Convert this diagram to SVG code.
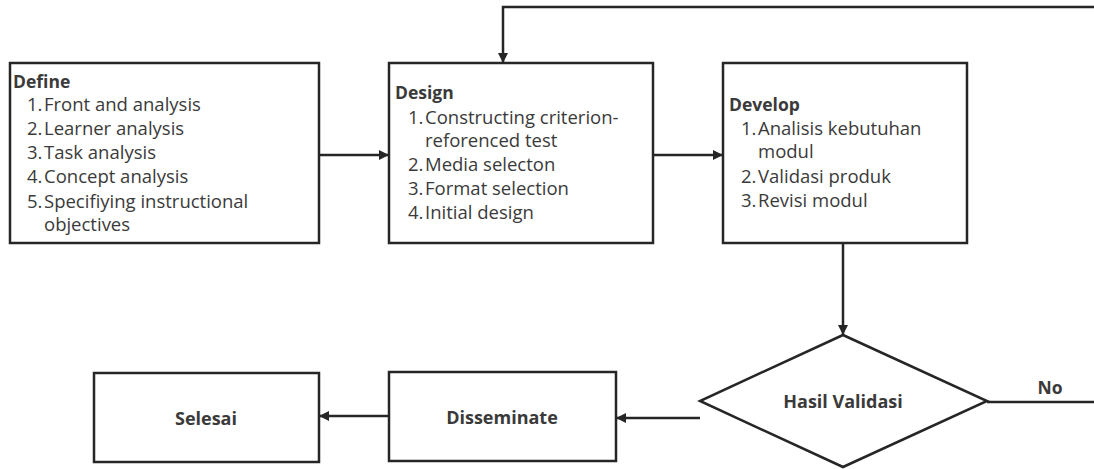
<svg xmlns="http://www.w3.org/2000/svg" width="1094" height="469" viewBox="0 0 1094 469">
<defs>
<style>
.box{fill:#fff;stroke:#262626;stroke-width:2.5}
.ln{fill:none;stroke:#262626;stroke-width:2.5}
text{font-family:"Open Sans","Noto Sans",sans-serif;fill:#3a3a3a;font-size:18.5px}
.t{font-weight:bold;font-size:17.5px}
.c{text-anchor:middle;dominant-baseline:central;font-weight:bold;font-size:18px}
</style>
<marker id="ah" viewBox="0 0 10 10" refX="10" refY="5" markerWidth="4" markerHeight="4" orient="auto" markerUnits="strokeWidth">
<path d="M0,0 L10,5 L0,10 z" fill="#262626"/>
</marker>
</defs>
<rect width="1094" height="469" fill="#fff"/>
<g id="connectors">
<line class="ln" x1="319" y1="155" x2="389" y2="155" marker-end="url(#ah)"/>
<line class="ln" x1="653" y1="155" x2="723" y2="155" marker-end="url(#ah)"/>
<line class="ln" x1="843" y1="243" x2="843" y2="335" marker-end="url(#ah)"/>
<line class="ln" x1="700" y1="418" x2="616" y2="418" marker-end="url(#ah)"/>
<line class="ln" x1="389" y1="416" x2="319" y2="416" marker-end="url(#ah)"/>
<polyline class="ln" points="987,402 1100,402 1100,7 503,7 503,63" marker-end="url(#ah)"/>
<text x="1050" y="394" class="t" text-anchor="middle">No</text>
</g>
<g id="define">
<rect class="box" x="10" y="63" width="309" height="180"/>
<text x="13" y="88" class="t">Define</text>
<text x="27" y="111">1.</text><text x="44" y="111">Front and analysis</text>
<text x="27" y="135">2.</text><text x="44" y="135">Learner analysis</text>
<text x="27" y="159">3.</text><text x="44" y="159">Task analysis</text>
<text x="27" y="183">4.</text><text x="44" y="183">Concept analysis</text>
<text x="27" y="208">5.</text><text x="44" y="208">Specifiying instructional</text>
<text x="44" y="231">objectives</text>
</g>
<g id="design">
<rect class="box" x="389" y="63" width="264" height="180"/>
<text x="395" y="99" class="t">Design</text>
<text x="408" y="124">1.</text><text x="425" y="124">Constructing criterion-</text>
<text x="425" y="147">reforenced test</text>
<text x="408" y="171">2.</text><text x="425" y="171">Media selecton</text>
<text x="408" y="195">3.</text><text x="425" y="195">Format selection</text>
<text x="408" y="219">4.</text><text x="425" y="219">Initial design</text>
</g>
<g id="develop">
<rect class="box" x="723" y="63" width="244" height="180"/>
<text x="729" y="111" class="t">Develop</text>
<text x="741" y="135">1.</text><text x="758" y="135">Analisis kebutuhan</text>
<text x="758" y="158">modul</text>
<text x="741" y="183">2.</text><text x="758" y="183">Validasi produk</text>
<text x="741" y="207">3.</text><text x="758" y="207">Revisi modul</text>
</g>
<g id="validasi">
<polygon class="box" points="843,335 987,401 843,467 700,401"/>
<text x="843" y="401" class="c">Hasil Validasi</text>
</g>
<g id="disseminate">
<rect class="box" x="389" y="372" width="227" height="89"/>
<text x="502" y="417" class="c">Disseminate</text>
</g>
<g id="selesai">
<rect class="box" x="94" y="373" width="225" height="89"/>
<text x="206" y="418" class="c">Selesai</text>
</g>
</svg>
